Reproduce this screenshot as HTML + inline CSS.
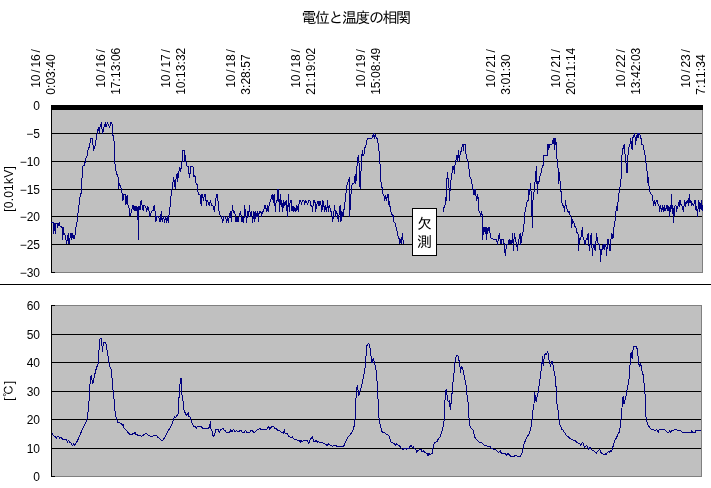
<!DOCTYPE html><html><head><meta charset="utf-8"><title>電位と温度の相関</title>
<style>html,body{margin:0;padding:0;background:#fff;}svg{display:block;}text{font-family:'Liberation Sans', 'IPAGothic', 'Noto Sans CJK JP', sans-serif;font-size:12px;fill:#000;}</style></head><body>
<svg width="711" height="488" viewBox="0 0 711 488">
<rect x="0" y="0" width="711" height="488" fill="#fff"/>
<text x="301.6" y="22.6" textLength="109.4" lengthAdjust="spacing" style="font-family:'Liberation Sans', 'IPAGothic', 'Noto Sans CJK JP', sans-serif;font-size:15px">電位と温度の相関</text>
<g shape-rendering="crispEdges">
<rect x="51" y="105" width="652" height="168" fill="#c0c0c0"/>
<rect x="51" y="105" width="652" height="5" fill="#000"/>
<rect x="51" y="133" width="651" height="1" fill="#000"/>
<rect x="51" y="161" width="651" height="1" fill="#000"/>
<rect x="51" y="189" width="651" height="1" fill="#000"/>
<rect x="51" y="216" width="651" height="1" fill="#000"/>
<rect x="51" y="244" width="651" height="1" fill="#000"/>
<rect x="702" y="110" width="1" height="163" fill="#808080"/>
<rect x="51" y="272" width="652" height="1" fill="#808080"/>
<rect x="51" y="105" width="1" height="168" fill="#000"/>
<rect x="51" y="272" width="4" height="1" fill="#000"/>
<rect x="0" y="284" width="711" height="1" fill="#000"/>
<rect x="51" y="305" width="651" height="172" fill="#c0c0c0"/>
<rect x="51" y="334" width="650" height="1" fill="#000"/>
<rect x="51" y="362" width="650" height="1" fill="#000"/>
<rect x="51" y="391" width="650" height="1" fill="#000"/>
<rect x="51" y="419" width="650" height="1" fill="#000"/>
<rect x="51" y="448" width="650" height="1" fill="#000"/>
<rect x="51" y="305" width="651" height="1" fill="#808080"/>
<rect x="701" y="305" width="1" height="172" fill="#808080"/>
<rect x="51" y="476" width="651" height="1" fill="#808080"/>
<rect x="51" y="305" width="1" height="172" fill="#000"/>
<rect x="51" y="305" width="4" height="1" fill="#000"/>
<rect x="51" y="476" width="4" height="1" fill="#000"/>
</g>
<polyline fill="none" stroke="#000080" stroke-width="1" stroke-linejoin="round" shape-rendering="crispEdges" points="51.4,222.3 52.1,222.3 53.1,222.3 53.5,233.6 54.2,223.0 55.3,233.6 55.9,223.0 57.7,223.0 57.7,227.2 59.1,222.3 60.1,226.5 62.0,227.2 62.7,239.2 63.6,227.2 64.1,234.3 65.2,235.0 66.6,243.8 68.3,233.6 69.0,243.8 70.4,235.7 71.1,232.9 71.8,239.2 72.8,233.6 73.9,239.2 75.0,235.0 76.0,227.2 77.4,220.2 78.1,211.8 79.5,201.9 80.2,195.6 81.6,192.1 81.9,178.0 82.3,177.9 82.6,166.3 84.5,164.9 85.9,158.5 87.7,155.0 87.7,150.8 89.4,146.6 90.8,138.1 92.2,138.1 93.6,150.1 94.7,148.0 97.1,133.2 98.5,127.6 99.2,132.5 99.9,126.9 101.6,122.4 101.6,126.9 102.7,133.2 104.1,126.9 105.6,122.4 106.0,126.9 107.4,122.4 107.9,124.1 109.8,127.6 110.8,122.4 111.9,122.7 112.6,133.2 114.0,140.9 114.7,161.3 116.1,171.9 118.2,177.9 118.2,178.0 118.5,188.5 119.6,183.6 121.0,187.8 122.4,194.9 122.9,200.5 123.8,194.9 125.2,194.9 125.9,204.7 127.1,194.9 127.8,204.7 128.8,206.1 129.9,216.0 131.3,211.8 133.0,205.4 134.1,210.3 135.1,206.1 136.1,211.1 136.9,206.1 137.9,211.8 138.3,239.2 138.9,206.1 140.0,210.3 141.1,200.5 142.1,205.4 143.2,211.1 144.0,205.4 145.4,206.1 146.8,211.1 147.7,206.1 149.2,211.8 149.9,216.0 149.9,216.6 151.5,211.1 153.1,210.3 154.2,205.6 155.1,211.1 155.8,222.1 157.0,216.6 158.6,216.6 160.2,222.1 161.3,211.1 162.2,222.1 163.4,216.6 164.6,222.1 165.7,216.6 166.8,222.1 167.6,216.6 168.6,222.1 169.2,212.7 170.5,203.2 171.2,193.7 172.5,186.6 173.6,177.2 175.2,188.2 176.0,179.5 177.1,173.2 177.5,181.9 178.8,171.7 179.9,167.7 180.7,171.7 181.5,163.8 182.3,161.4 182.6,150.4 184.2,150.4 184.6,161.4 185.4,155.9 186.2,163.8 187.3,166.9 188.3,166.1 188.9,173.2 189.7,177.2 190.6,166.6 193.0,166.6 193.8,176.4 194.9,175.6 196.2,184.0 197.3,184.3 197.7,190.6 198.8,194.5 199.9,194.5 201.2,205.6 202.0,194.5 203.6,200.1 204.4,194.5 205.6,194.5 206.3,205.6 207.0,200.1 208.3,202.4 209.1,205.6 210.4,200.1 211.5,205.6 212.6,205.6 213.5,207.2 214.3,211.1 215.4,203.2 216.5,194.5 217.5,194.5 218.2,203.2 218.9,211.1 220.1,215.0 221.4,216.6 222.8,222.1 223.8,216.6 225.7,217.4 226.8,222.1 227.7,216.6 228.5,222.1 229.6,214.3 230.7,211.1 231.2,222.1 232.4,205.6 233.5,212.7 234.7,211.1 235.9,222.1 237.0,216.6 238.0,222.1 239.1,216.6 240.6,211.1 241.9,222.1 243.0,216.6 243.8,222.1 244.6,205.6 245.7,214.3 246.6,222.1 247.7,211.1 248.5,216.6 249.5,205.6 250.4,216.6 251.4,211.1 252.5,222.1 253.3,216.6 254.0,211.3 254.7,221.9 255.7,211.3 256.8,216.3 257.5,211.3 258.5,221.9 259.1,212.0 260.8,211.3 261.7,216.3 262.4,211.3 263.6,211.3 264.5,205.7 265.5,205.7 266.4,211.3 267.4,205.7 268.1,211.3 269.2,205.0 270.6,200.1 272.3,194.5 273.4,202.2 274.1,194.5 275.4,211.3 276.2,200.1 277.2,200.8 277.9,189.3 278.6,189.3 279.3,211.3 280.3,194.5 281.1,206.4 281.8,200.8 282.8,211.3 283.5,200.1 284.9,205.7 286.1,200.8 287.5,216.3 288.5,194.5 289.2,211.3 290.3,200.1 291.3,200.8 292.0,211.3 293.0,205.7 293.8,211.3 294.8,207.8 295.9,211.3 296.9,205.7 298.3,211.3 299.3,200.8 300.7,200.8 301.5,205.0 302.2,200.8 303.9,200.8 304.6,205.0 305.3,200.8 306.7,201.5 307.4,205.0 308.6,200.8 310.0,200.8 311.0,205.7 311.9,205.7 312.6,211.3 313.5,200.8 314.9,200.8 315.6,211.3 316.6,205.0 318.0,200.8 319.0,205.7 320.1,200.8 321.1,205.7 321.9,211.3 322.9,200.8 323.9,205.7 324.7,211.3 325.7,205.7 326.7,211.3 327.6,200.8 328.5,211.3 329.5,205.7 330.7,211.3 331.6,211.3 332.5,221.9 333.5,216.3 334.6,205.7 335.6,216.3 336.7,211.3 337.7,216.3 338.4,221.9 339.4,211.3 340.1,205.7 340.9,221.9 341.9,211.3 342.9,216.3 343.7,211.3 344.7,205.7 345.7,195.2 346.8,186.0 348.0,182.5 349.4,177.6 349.6,216.3 350.8,196.6 351.7,186.0 352.7,183.2 354.1,183.2 355.2,174.7 355.8,183.9 356.6,171.9 357.6,157.9 358.0,161.4 358.6,155.8 359.4,169.8 360.1,188.8 361.1,169.8 362.2,150.8 362.9,155.8 363.9,155.1 364.6,148.0 365.7,147.3 366.7,141.0 367.7,138.6 372.1,138.2 373.5,134.0 374.2,138.2 375.2,134.0 376.3,138.6 377.3,138.6 378.3,144.5 379.4,154.3 380.1,165.6 381.1,183.9 382.6,189.9 382.6,188.1 382.9,193.7 383.9,195.1 384.7,200.1 385.7,195.1 386.7,200.1 387.5,194.4 388.5,195.1 388.9,205.0 389.6,201.5 390.4,211.3 391.3,212.0 392.3,216.2 392.9,214.1 394.1,222.6 395.3,223.3 396.3,228.2 397.4,232.4 398.4,238.7 399.1,238.7 399.8,243.9 400.8,239.4 401.5,243.9 402.3,233.1 402.9,239.4 403.6,243.9"/>
<polyline fill="none" stroke="#000080" stroke-width="1" stroke-linejoin="round" shape-rendering="crispEdges" points="443.3,211.5 444.2,206.5 445.1,205.1 445.8,198.8 446.1,196.0 446.1,200.5 446.1,189.2 446.5,183.6 447.5,172.3 448.0,178.7 448.7,178.0 449.4,200.5 450.1,189.2 451.2,178.0 452.2,172.3 452.6,166.0 453.6,166.0 454.3,173.1 454.7,166.0 455.7,162.5 456.7,155.5 457.4,161.1 458.5,150.5 459.2,161.1 460.2,154.1 461.3,150.5 462.7,144.2 463.4,150.5 463.8,144.2 465.5,144.2 465.8,152.7 466.9,158.3 468.1,162.5 469.1,169.5 470.0,177.3 470.9,178.0 471.9,183.6 472.8,189.2 474.0,194.9 475.0,189.2 475.8,194.9 476.8,200.5 477.5,194.9 478.6,200.5 478.9,207.9 478.9,204.4 478.9,210.8 479.9,212.2 480.7,216.7 481.7,211.5 482.4,216.4 482.7,239.6 483.5,227.6 484.5,227.6 485.2,233.3 485.6,227.6 486.4,239.6 486.9,227.6 487.8,233.3 488.3,227.6 489.4,227.6 490.1,233.3 490.9,238.2 491.8,238.9 496.5,239.3 497.5,244.2 498.3,238.9 499.3,233.3 500.0,238.9 501.0,244.2 502.1,238.9 503.2,239.6 504.2,244.5 505.3,255.8 506.0,249.4 507.0,244.2 508.0,244.5 509.1,239.6 510.1,244.2 511.0,239.6 511.9,244.2 512.7,233.3 513.4,250.9 514.3,233.3 515.5,238.9 516.5,244.2 517.6,250.9 518.3,241.0 519.3,238.2 520.1,233.3 520.8,244.2 521.8,236.8 522.9,233.3 523.9,225.5 524.6,214.3 525.6,208.7 527.1,201.9 528.1,200.5 528.8,189.2 529.5,194.9 530.5,183.6 531.6,200.0 532.3,227.6 533.0,200.0 533.7,194.9 534.9,183.6 535.6,175.2 536.5,166.3 537.3,194.0 538.0,181.3 538.9,183.4 539.6,177.8 540.8,173.6 542.2,167.3 543.2,165.2 543.6,155.3 547.1,155.3 547.5,144.1 548.5,144.1 548.8,149.7 549.6,144.1 552.0,144.1 552.7,141.3 553.4,138.4 553.8,144.1 554.6,138.4 554.8,149.7 555.3,138.4 555.8,138.4 556.2,145.5 556.7,158.1 557.6,161.6 558.3,172.2 558.8,183.4 559.2,172.2 559.8,178.5 560.5,186.3 561.2,193.3 561.6,197.9 561.6,201.6 562.6,205.1 563.7,206.5 564.7,211.5 565.4,200.2 566.1,205.8 567.2,210.1 568.2,212.2 569.3,211.5 570.3,216.4 571.3,217.1 571.7,227.6 572.4,219.9 573.8,222.7 574.9,226.2 575.9,227.6 576.9,232.6 578.0,233.3 578.5,250.9 579.4,238.9 580.6,239.6 581.6,233.3 582.3,227.6 583.0,236.8 583.9,239.6 585.1,244.5 586.2,238.9 587.2,239.6 588.2,233.3 588.9,244.5 589.6,250.9 590.4,238.9 591.4,233.3 591.8,244.5 592.4,255.8 593.2,245.2 594.2,244.5 595.2,250.9 595.9,242.4 596.6,233.3 597.4,241.0 598.4,244.5 599.8,244.5 600.5,261.4 601.5,249.4 602.2,250.1 603.1,244.5 604.1,249.4 605.0,244.5 605.9,245.2 606.5,255.8 607.3,244.5 608.0,238.9 609.0,244.5 610.0,250.9 610.8,241.0 611.8,233.3 612.9,238.9 613.9,227.6 614.9,222.0 615.7,212.9 616.7,206.5 617.4,210.8 618.1,200.9 618.8,196.0 619.1,191.9 620.2,186.3 621.2,177.8 621.6,161.6 622.3,150.4 623.3,147.6 624.2,144.1 624.9,150.4 625.1,156.3 625.8,159.2 626.5,172.5 627.2,172.5 627.6,162.0 628.2,152.1 629.0,147.2 630.0,144.4 630.7,138.1 631.4,145.1 632.1,150.0 632.8,138.1 633.8,135.3 634.6,133.4 635.2,138.1 635.6,144.4 636.3,138.8 637.3,133.4 638.0,138.1 638.8,133.4 639.8,133.8 640.5,138.1 641.2,138.8 641.9,144.4 643.1,145.1 644.1,150.7 645.2,156.3 646.2,164.8 647.1,171.8 647.8,183.1 648.3,177.4 649.0,185.9 650.0,191.9 650.4,193.6 651.8,194.3 652.9,199.9 653.6,205.5 654.6,200.6 655.3,205.5 656.3,200.6 657.4,200.6 658.4,205.5 659.2,206.2 659.8,211.2 660.5,205.5 661.6,211.2 662.3,205.5 663.3,211.2 664.2,205.5 665.1,211.2 666.1,208.3 667.0,205.5 668.0,211.2 668.7,206.2 669.4,216.5 670.1,205.5 670.8,211.2 671.5,194.3 672.2,214.0 672.9,205.5 673.6,222.4 674.3,211.2 675.0,206.2 676.0,205.5 676.7,211.2 677.5,206.2 678.5,205.5 679.2,200.6 679.9,206.2 680.6,200.6 681.3,205.5 682.4,206.2 683.2,211.2 684.1,205.5 684.8,200.6 685.5,206.2 686.5,201.3 687.7,200.6 688.4,205.5 689.3,194.3 690.0,202.7 690.9,200.6 691.6,205.5 692.6,203.4 693.7,205.5 694.7,200.6 695.4,200.6 696.1,211.2 696.8,206.2 697.5,216.5 698.2,206.2 698.9,199.9 699.6,211.2 700.6,205.5 701.4,200.6 702.1,211.2 702.4,205.5"/>
<polyline fill="none" stroke="#000080" stroke-width="1" stroke-linejoin="round" shape-rendering="crispEdges" points="51.7,432.8 53.5,435.4 55.3,436.8 56.3,438.9 57.3,436.1 58.7,436.8 59.6,438.2 61.0,436.8 62.0,438.9 64.1,439.3 66.6,439.9 67.6,442.4 68.3,440.3 69.7,442.1 71.1,443.1 72.5,445.9 73.6,443.8 74.6,445.2 75.7,443.1 77.4,441.0 79.5,436.1 81.6,431.2 83.8,426.2 85.9,422.7 87.3,418.5 88.3,410.1 89.1,400.2 89.7,396.0 89.7,389.1 90.4,378.5 91.2,375.7 91.9,379.2 92.9,383.4 93.9,378.5 95.0,373.6 96.4,368.0 97.8,364.5 98.5,363.1 98.9,352.5 99.5,339.8 100.4,338.4 101.3,338.7 101.8,344.1 102.5,351.1 103.2,344.1 104.1,342.0 105.6,342.7 106.5,346.2 107.4,352.5 108.4,358.8 109.1,363.1 110.2,367.3 111.2,369.4 111.9,376.4 112.6,389.1 113.6,391.2 114.4,405.8 115.4,414.3 116.4,418.5 117.5,422.0 119.6,422.7 121.7,424.1 122.4,425.5 123.1,424.1 123.8,427.6 125.9,429.8 128.1,432.6 130.2,434.7 132.3,434.7 133.0,433.3 134.4,433.7 135.1,432.3 136.1,434.7 137.9,435.1 140.0,435.8 142.1,436.1 143.5,435.1 145.6,433.3 146.0,433.2 148.1,435.3 150.2,436.0 152.3,436.4 153.7,435.3 155.1,436.0 156.5,435.6 158.0,437.8 159.4,438.1 160.8,439.9 162.2,440.9 164.3,438.1 166.4,433.9 168.5,430.4 170.6,426.9 172.0,424.0 173.4,419.8 174.4,417.0 175.5,417.7 176.2,416.3 177.6,414.9 178.6,413.5 179.1,394.5 179.8,391.7 180.2,378.3 181.2,378.3 181.6,391.7 182.6,398.7 183.3,402.2 184.0,410.0 185.4,413.5 186.1,415.6 187.5,414.2 188.5,412.1 188.9,416.3 189.9,416.3 191.0,419.8 192.1,423.3 193.5,426.1 195.2,426.1 196.4,428.3 197.3,426.1 201.6,426.4 202.3,428.3 208.6,428.5 209.6,426.1 210.3,421.9 210.7,428.3 211.8,430.4 212.8,435.3 213.8,436.7 214.6,434.6 215.6,429.7 217.0,429.0 218.4,429.7 219.4,432.5 220.3,429.9 221.7,429.4 222.7,428.3 224.1,429.9 225.5,430.4 226.2,432.2 229.7,432.2 230.7,429.7 231.8,431.8 232.9,429.9 233.9,429.7 234.9,431.8 236.0,430.8 238.1,431.1 239.1,432.2 240.0,430.5 241.4,430.5 242.1,432.3 244.2,432.3 245.6,430.2 246.8,432.3 249.8,432.3 251.3,430.2 252.4,430.5 253.4,432.3 255.2,431.9 256.6,430.2 258.3,429.8 259.7,428.3 261.1,429.8 263.2,429.5 265.3,429.8 267.4,428.6 268.6,426.2 269.5,429.1 270.9,427.6 272.1,426.0 273.5,426.2 274.5,428.3 276.3,428.6 277.7,430.5 279.4,430.2 280.8,431.9 282.2,432.3 283.3,433.3 284.3,429.8 285.0,433.3 287.1,433.7 288.5,436.1 289.9,436.8 291.3,437.9 292.3,436.8 293.4,438.9 295.6,439.3 297.7,440.3 299.4,440.7 300.2,442.4 300.9,440.3 301.9,441.7 303.6,440.7 307.5,440.7 308.6,443.5 309.6,442.4 310.3,438.9 311.7,438.2 312.4,436.1 313.1,439.6 313.8,441.7 315.2,441.7 316.2,440.3 317.1,442.1 318.8,441.7 320.2,443.1 321.6,442.1 323.0,443.1 324.4,443.5 326.1,444.5 327.2,445.5 328.3,443.8 329.7,444.9 331.4,445.5 332.8,446.4 334.2,445.2 336.3,445.9 336.3,446.4 343.7,446.4 345.1,442.4 347.3,438.2 348.7,436.1 350.8,434.0 352.9,430.5 354.3,425.5 355.0,419.9 355.4,400.2 356.4,396.0 356.4,390.3 357.4,385.3 358.1,390.3 358.8,395.2 359.9,391.7 361.3,387.4 362.7,381.1 364.1,373.4 365.3,366.3 365.8,359.3 366.7,346.0 367.6,344.5 368.6,343.1 369.8,346.0 370.5,352.3 371.2,357.2 371.9,362.8 372.8,360.0 373.6,358.6 374.3,362.1 375.4,367.1 376.4,372.0 377.1,381.8 377.5,390.3 378.2,401.6 378.9,417.1 379.6,422.7 381.0,428.3 382.1,431.9 384.5,432.8 385.9,434.0 387.3,434.7 389.2,436.1 390.1,439.6 391.1,442.4 393.0,443.1 394.4,443.8 395.4,445.2 396.5,443.8 398.6,445.5 400.0,446.4 401.0,448.0 402.8,449.4 404.2,448.5 406.3,449.2 407.7,448.3 409.1,448.7 410.3,445.9 411.2,445.2 412.2,447.3 413.4,446.6 414.5,448.7 415.9,449.7 416.9,452.3 418.3,450.1 420.1,449.9 421.1,449.2 422.1,451.6 423.2,450.6 424.6,452.3 426.0,453.0 427.1,453.7 428.1,455.8 429.1,453.0 430.2,455.1 431.4,453.7 432.0,453.7 432.7,449.4 433.7,445.2 434.8,442.4 436.9,441.7 438.3,438.9 439.7,437.5 441.1,434.0 442.5,429.8 443.5,424.1 444.4,418.5 444.9,403.0 445.4,391.3 446.3,389.2 447.2,396.3 448.2,401.9 449.2,400.5 450.3,409.2 451.4,400.5 452.4,389.2 453.4,378.0 454.5,369.5 455.2,359.7 456.2,356.2 457.3,355.2 458.4,356.2 459.1,361.1 459.8,364.6 460.6,372.3 461.3,366.0 462.2,367.4 463.2,370.2 464.1,375.9 465.1,380.8 466.2,386.4 466.9,394.9 467.9,400.2 468.6,410.1 469.3,424.1 470.3,426.9 471.4,428.3 472.8,429.8 473.8,432.6 474.6,436.8 475.9,438.9 477.7,441.0 479.8,442.4 481.9,443.1 484.0,444.9 486.1,445.5 488.3,446.4 490.4,446.9 491.8,448.7 493.9,449.4 496.0,449.9 497.4,451.6 498.8,452.3 500.2,450.9 501.2,453.0 503.0,453.0 505.1,453.7 506.5,455.1 507.9,453.4 509.1,454.4 510.1,455.8 511.5,456.5 513.6,456.5 515.0,455.8 516.1,455.1 517.5,456.2 519.2,456.5 520.6,456.2 521.7,453.7 523.1,448.7 524.1,443.8 525.5,440.3 527.3,436.8 529.0,434.0 530.4,429.8 531.6,424.1 532.1,419.2 532.7,412.9 533.5,405.8 534.0,404.0 534.4,392.0 534.9,401.9 535.5,395.6 536.1,401.9 537.2,396.3 538.2,392.0 539.2,385.0 540.3,376.6 541.4,367.4 542.1,361.8 542.7,356.2 543.1,366.0 543.8,361.1 544.5,354.8 545.5,353.4 546.2,354.8 547.0,352.7 547.7,351.3 548.3,355.5 549.0,359.7 549.8,362.5 550.6,366.7 551.3,362.5 552.0,361.1 552.9,363.9 553.6,370.2 554.6,372.3 555.5,380.8 556.2,388.5 556.7,399.1 556.9,403.0 557.9,408.7 558.8,417.1 559.6,424.8 560.7,426.2 561.7,429.1 562.8,429.8 563.8,431.9 564.9,432.8 565.9,434.7 567.0,436.1 568.4,436.8 569.5,438.2 571.2,439.3 572.9,439.9 574.7,440.3 576.1,441.7 578.0,443.1 579.7,443.8 580.8,445.2 581.8,443.1 582.8,442.1 583.6,444.5 584.6,447.3 585.6,446.4 586.7,445.2 587.8,447.8 588.8,449.4 589.9,446.9 590.9,448.7 592.3,450.1 593.7,450.6 594.9,451.6 596.3,453.4 597.2,451.6 598.7,450.1 599.6,449.2 600.5,451.6 601.5,453.4 602.9,453.9 604.0,455.1 605.0,453.7 606.1,454.8 607.1,453.0 608.5,451.6 609.5,452.3 610.6,450.1 611.0,452.3 612.4,448.7 613.8,443.8 614.9,440.3 616.6,437.5 618.0,434.0 619.4,431.9 620.1,427.6 620.8,421.3 621.5,412.9 622.3,404.4 622.5,397.9 623.4,396.5 623.9,403.9 624.6,403.9 625.1,398.6 626.2,395.1 627.2,389.4 628.2,383.8 629.3,376.8 630.0,365.5 630.4,355.7 631.4,352.2 632.1,359.2 632.8,351.5 633.5,346.5 636.3,346.5 637.3,349.4 637.7,354.3 638.4,358.5 638.8,364.1 639.8,366.2 640.8,363.4 641.7,369.8 642.6,373.3 643.6,376.1 644.1,383.8 644.8,392.3 645.5,398.8 645.7,414.3 646.4,419.9 647.3,423.4 648.7,426.2 650.4,428.3 651.8,429.5 653.9,429.8 655.3,430.5 656.3,429.5 657.4,430.5 658.4,432.3 659.1,429.8 661.6,430.0 665.1,429.8 666.1,431.2 667.3,432.3 668.7,432.3 669.8,430.5 670.8,432.3 671.8,430.5 673.6,430.2 675.4,429.5 677.1,430.2 680.6,430.5 682.0,432.3 691.2,432.3 691.6,430.2 692.3,432.3 695.4,432.3 695.8,430.5 701.0,430.5"/>
<rect x="412.5" y="208.5" width="24" height="47" fill="#fff" stroke="#000" stroke-width="1" shape-rendering="crispEdges"/>
<text x="424.6" y="229.3" text-anchor="middle" style="font-family:'Liberation Sans', 'IPAGothic', 'Noto Sans CJK JP', sans-serif;font-size:15px">欠</text>
<text x="424.6" y="246.9" text-anchor="middle" style="font-family:'Liberation Sans', 'IPAGothic', 'Noto Sans CJK JP', sans-serif;font-size:15px">測</text>
<text x="40" y="109.9" text-anchor="end">0</text>
<text x="40" y="137.9" text-anchor="end">−5</text>
<text x="40" y="165.9" text-anchor="end">−10</text>
<text x="40" y="193.9" text-anchor="end">−15</text>
<text x="40" y="220.9" text-anchor="end">−20</text>
<text x="40" y="248.9" text-anchor="end">−25</text>
<text x="40" y="276.9" text-anchor="end">−30</text>
<text x="40" y="309.9" text-anchor="end">60</text>
<text x="40" y="338.9" text-anchor="end">50</text>
<text x="40" y="366.9" text-anchor="end">40</text>
<text x="40" y="395.9" text-anchor="end">30</text>
<text x="40" y="423.9" text-anchor="end">20</text>
<text x="40" y="452.9" text-anchor="end">10</text>
<text x="40" y="480.9" text-anchor="end">0</text>
<text transform="translate(12.6,189) rotate(-90)" text-anchor="middle" textLength="45.5" lengthAdjust="spacing">[0.01kV]</text>
<text transform="translate(13,390.8) rotate(-90)" text-anchor="middle" textLength="20" lengthAdjust="spacing" style="font-family:'Liberation Sans', 'IPAGothic', 'Noto Sans CJK JP', sans-serif">[℃]</text>
<text transform="translate(39.5,87.7) rotate(-90)" x="-0.04 6.56 15.03 20.16 26.76 35.23">10/16/</text>
<text transform="translate(55.0,94.8) rotate(-90)" x="-0.04 6.78 10.26 16.86 23.68 27.16 33.76">0:03:40</text>
<text transform="translate(104.5,87.7) rotate(-90)" x="-0.04 6.56 15.03 20.16 26.76 35.23">10/16/</text>
<text transform="translate(120.0,94.8) rotate(-90)" x="-0.04 6.56 13.38 16.86 23.46 30.28 33.76 40.36">17:13:06</text>
<text transform="translate(169.5,87.7) rotate(-90)" x="-0.04 6.56 15.03 20.16 26.76 35.23">10/17/</text>
<text transform="translate(185.0,94.8) rotate(-90)" x="-0.04 6.56 13.38 16.86 23.46 30.28 33.76 40.36">10:13:32</text>
<text transform="translate(234.5,87.7) rotate(-90)" x="-0.04 6.56 15.03 20.16 26.76 35.23">10/18/</text>
<text transform="translate(250.0,94.8) rotate(-90)" x="-0.04 6.78 10.26 16.86 23.68 27.16 33.76">3:28:57</text>
<text transform="translate(299.5,87.7) rotate(-90)" x="-0.04 6.56 15.03 20.16 26.76 35.23">10/18/</text>
<text transform="translate(315.0,94.8) rotate(-90)" x="-0.04 6.56 13.38 16.86 23.46 30.28 33.76 40.36">21:19:02</text>
<text transform="translate(364.5,87.7) rotate(-90)" x="-0.04 6.56 15.03 20.16 26.76 35.23">10/19/</text>
<text transform="translate(380.0,94.8) rotate(-90)" x="-0.04 6.56 13.38 16.86 23.46 30.28 33.76 40.36">15:08:49</text>
<text transform="translate(494.5,87.7) rotate(-90)" x="-0.04 6.56 15.03 20.16 26.76 35.23">10/21/</text>
<text transform="translate(510.0,94.8) rotate(-90)" x="-0.04 6.78 10.26 16.86 23.68 27.16 33.76">3:01:30</text>
<text transform="translate(559.5,87.7) rotate(-90)" x="-0.04 6.56 15.03 20.16 26.76 35.23">10/21/</text>
<text transform="translate(575.0,94.8) rotate(-90)" x="-0.04 6.56 13.38 16.86 23.46 30.28 33.76 40.36">20:11:14</text>
<text transform="translate(624.5,87.7) rotate(-90)" x="-0.04 6.56 15.03 20.16 26.76 35.23">10/22/</text>
<text transform="translate(640.0,94.8) rotate(-90)" x="-0.04 6.56 13.38 16.86 23.46 30.28 33.76 40.36">13:42:03</text>
<text transform="translate(689.5,87.7) rotate(-90)" x="-0.04 6.56 15.03 20.16 26.76 35.23">10/23/</text>
<text transform="translate(705.0,94.8) rotate(-90)" x="-0.04 6.78 10.26 16.86 23.68 27.16 33.76">7:11:34</text>
</svg></body></html>
